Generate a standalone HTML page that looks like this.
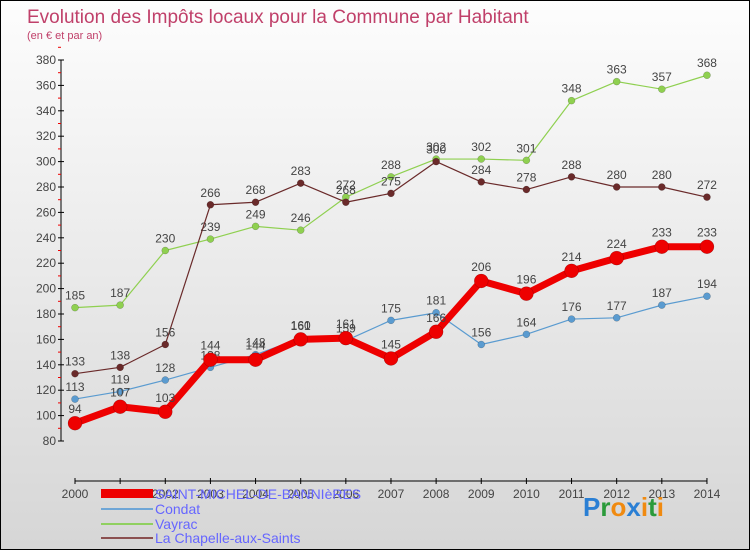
<!DOCTYPE html>
<html><head><meta charset="utf-8"><style>
body{margin:0}
#c{width:748px;height:548px;border:1px solid #000;background:linear-gradient(#fdfdfd,#d6d6d6);position:relative;font-family:"Liberation Sans",sans-serif;overflow:hidden}
text{font-family:"Liberation Sans",sans-serif}
</style></head><body>
<div id="c">
<svg id="s" width="748" height="548" xmlns="http://www.w3.org/2000/svg">
<text x="26" y="22" font-size="19" fill="#c0406a">Evolution des Impôts locaux pour la Commune par Habitant</text>
<text x="26" y="38" font-size="11" fill="#c0406a">(en € et par an)</text>
<g id="axes"></g><g id="series"></g>
<g>
<rect x="100" y="488" width="52" height="9" fill="#e00"/>
<text x="154" y="498" font-size="14" fill="#6666ff">SAINT-MICHEL-DE-BANNIèRES</text>
<rect x="100" y="507" width="52" height="2" fill="#6fa6d6"/>
<text x="154" y="513" font-size="14" fill="#6666ff">Condat</text>
<rect x="100" y="522" width="52" height="2" fill="#90d060"/>
<text x="154" y="528" font-size="14" fill="#6666ff">Vayrac</text>
<rect x="100" y="536" width="52" height="2" fill="#8b5050"/>
<text x="154" y="542" font-size="14" fill="#6666ff">La Chapelle-aux-Saints</text>
</g>
<text x="582" y="515" font-size="26" font-weight="bold"><tspan fill="#2a7fd4">P</tspan><tspan fill="#2a9a3a">r</tspan><tspan fill="#f08a10">o</tspan><tspan fill="#2a7fd4">x</tspan><tspan fill="#f08a10">i</tspan><tspan fill="#2a9a3a">t</tspan><tspan fill="#f08a10">i</tspan></text>
</svg></div>
<script>
const years=[2000,2001,2002,2003,2004,2005,2006,2007,2008,2009,2010,2011,2012,2013,2014];
const yTicks=[80,100,120,140,160,180,200,220,240,260,280,300,320,340,360,380];
const smb=[94,107,103,144,144,160,161,145,166,206,196,214,224,233,233];
const condat=[113,119,128,138,148,161,159,175,181,156,164,176,177,187,194];
const vayrac=[185,187,230,239,249,246,272,288,302,302,301,348,363,357,368];
const chapelle=[133,138,156,266,268,283,268,275,300,284,278,288,280,280,272];
const NS="http://www.w3.org/2000/svg";
const X=i=>74+i*45.14;
const Y=v=>440-(v-80)*1.27;
function mk(t,a,p){const e=document.createElementNS(NS,t);for(const k in a)e.setAttribute(k,a[k]);p.appendChild(e);return e;}
const ax=document.getElementById('axes');
let l=mk('line',{x1:60,y1:Y(380),x2:60,y2:Y(80),stroke:'#000'},ax);


yTicks.forEach(v=>{
 mk('line',{x1:57,x2:63,y1:Y(v),y2:Y(v),stroke:'#000'},ax);
 mk('line',{x1:57,x2:60,y1:Y(v+10),y2:Y(v+10),stroke:'#e00'},ax);
 const t=mk('text',{x:55,y:Y(v)+4,'font-size':12,fill:'#444','text-anchor':'end'},ax);t.textContent=v;
 
 
});
l=mk('line',{x1:X(0),x2:X(14),y1:480,y2:480,stroke:'#000'},ax);


years.forEach((y,i)=>{
 mk('line',{x1:X(i),x2:X(i),y1:477,y2:483,stroke:'#000'},ax);
 const t=mk('text',{x:X(i),y:497,'font-size':12,fill:'#444','text-anchor':'middle'},ax);t.textContent=y;
 
 
});
const sg=document.getElementById('series');
function draw(vals,col,w,r,name,labelOff){
 const g=mk('g',{},sg);
 
 
 const p=mk('polyline',{points:vals.map((v,i)=>X(i)+','+Y(v)).join(' '),fill:'none',stroke:col,'stroke-width':w,'stroke-linejoin':'round'},g);
 
 
 vals.forEach((v,i)=>{
  const c=mk('circle',{cx:X(i),cy:Y(v),r:r,fill:col,stroke:'rgba(0,0,0,0.3)','stroke-width':0.5},g);
  
  
  const t=mk('text',{x:X(i),y:Y(v)-labelOff,'font-size':12,fill:'#444','text-anchor':'middle'},g);t.textContent=v;
  
  
 });
}
draw(condat,'#5a9bd0',1.2,3.5,'condat',8);
draw(vayrac,'#8fd050',1.2,3.5,'vayrac',8);
draw(chapelle,'#6a2a2a',1.2,3.5,'la-chapelle',8);
draw(smb,'#ee0000',7,7,'saint-michel',10);
</script>
</body></html>
